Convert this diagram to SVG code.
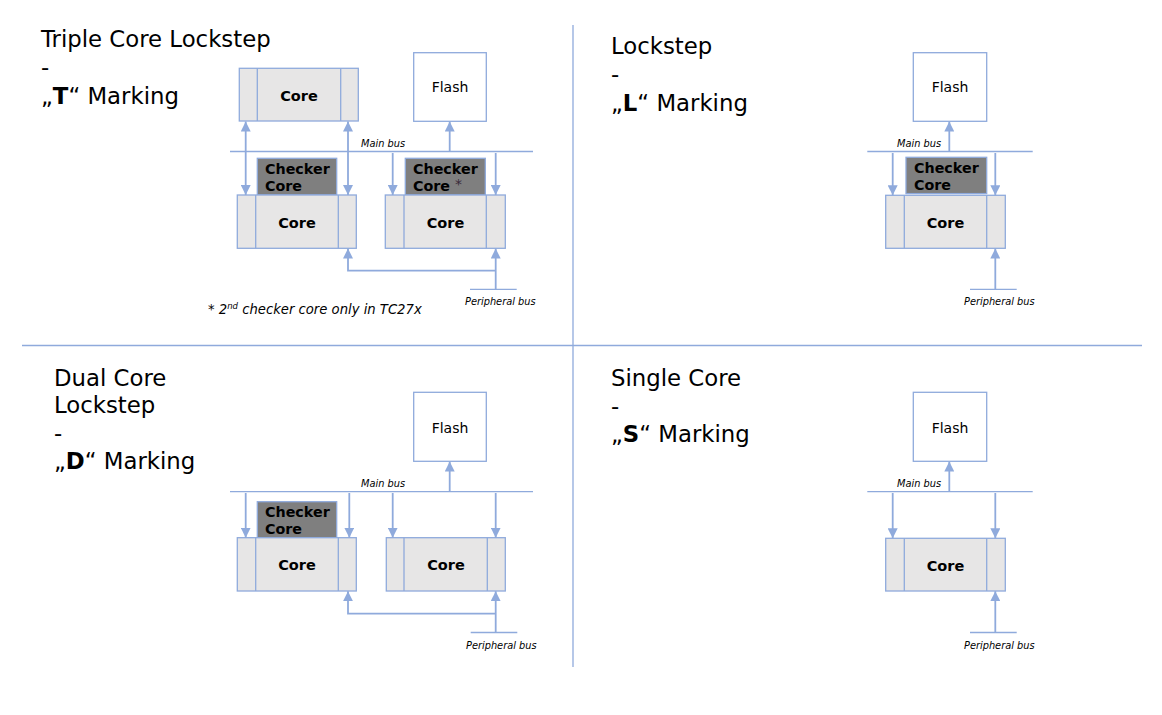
<svg xmlns="http://www.w3.org/2000/svg" width="1162" height="715" viewBox="0 0 1162 715">
<style>
text{font-family:"DejaVu Sans","Verdana",sans-serif;fill:#000}
.title{font-size:22.8px}
.core{fill:#E7E6E6;stroke:#8FAADC;stroke-width:1.3}
.chk{fill:#7F7F7F;stroke:#8FAADC;stroke-width:1.3}
.flash{fill:#fff;stroke:#8FAADC;stroke-width:1.3}
.div{stroke:#8FAADC;stroke-width:1.3;fill:none}
.bus{stroke:#8FAADC;stroke-width:1.3;fill:none}
.arr{stroke:#8FAADC;stroke-width:1.8;fill:none;marker-end:url(#ah)}
.arr2{stroke:#8FAADC;stroke-width:1.8;fill:none;marker-end:url(#ah);marker-start:url(#ahs)}
.sep{stroke:#8FAADC;stroke-width:1.3}
.ct{font-size:14.5px;font-weight:bold;text-anchor:middle}
.ck{font-size:14.3px;font-weight:bold}
.ft{font-size:14px;text-anchor:middle}
.lbl{font-size:9.8px;font-style:italic}
.note{font-size:13.2px;font-style:italic}
</style>
<defs>
<marker id="ah" markerUnits="userSpaceOnUse" markerWidth="11" markerHeight="10" refX="10" refY="5" orient="auto"><path d="M0,0 L10,5 L0,10 z" fill="#8FAADC"/></marker>
<marker id="ahs" markerUnits="userSpaceOnUse" markerWidth="11" markerHeight="10" refX="10" refY="5" orient="auto-start-reverse"><path d="M0,0 L10,5 L0,10 z" fill="#8FAADC"/></marker>
</defs>

<g id="separators">
<line class="sep" x1="573" y1="25" x2="573" y2="667"/>
<line class="sep" x1="22" y1="345.5" x2="1142" y2="345.5"/>
</g>

<g id="titles">
<text class="title" x="41" y="47">Triple Core Lockstep</text>
<text class="title" x="41" y="75">-</text>
<text class="title" x="41" y="104">„<tspan font-weight="bold">T</tspan>“ Marking</text>
<text class="title" x="611" y="54">Lockstep</text>
<text class="title" x="611" y="82">-</text>
<text class="title" x="611" y="111">„<tspan font-weight="bold">L</tspan>“ Marking</text>
<text class="title" x="54" y="386">Dual Core</text>
<text class="title" x="54" y="413">Lockstep</text>
<text class="title" x="54" y="441">-</text>
<text class="title" x="54" y="469">„<tspan font-weight="bold">D</tspan>“ Marking</text>
<text class="title" x="611" y="386">Single Core</text>
<text class="title" x="611" y="414">-</text>
<text class="title" x="611" y="442">„<tspan font-weight="bold">S</tspan>“ Marking</text>
</g>

<!-- Quadrant T -->
<g id="t-core-top">
<rect class="core" x="239.3" y="68.3" width="119" height="52.7"/>
<line class="div" x1="257.3" y1="68.3" x2="257.3" y2="121"/>
<line class="div" x1="340.7" y1="68.3" x2="340.7" y2="121"/>
<text class="ct" x="299" y="101">Core</text>
</g>
<g id="t-flash">
<rect class="flash" x="413.7" y="52.7" width="72.6" height="68.6"/>
<text class="ft" x="450" y="91.5">Flash</text>
</g>
<g id="t-checker1">
<rect class="chk" x="257.3" y="158.3" width="79.4" height="36.7"/>
<text class="ck" x="265" y="174">Checker</text>
<text class="ck" x="265" y="190.5">Core</text>
</g>
<g id="t-core-left">
<rect class="core" x="237.3" y="195" width="119" height="53.3"/>
<line class="div" x1="255.7" y1="195" x2="255.7" y2="248.3"/>
<line class="div" x1="338.3" y1="195" x2="338.3" y2="248.3"/>
<text class="ct" x="297" y="227.5">Core</text>
</g>
<g id="t-checker2">
<rect class="chk" x="405.3" y="158.3" width="80" height="36.7"/>
<text class="ck" x="413" y="174">Checker</text>
<text class="ck" x="413" y="190.5">Core <tspan font-weight="normal" fill="#3a2a3a" font-size="14" dy="-2">*</tspan></text>
</g>
<g id="t-core-right">
<rect class="core" x="385.3" y="195" width="120" height="53.3"/>
<line class="div" x1="404" y1="195" x2="404" y2="248.3"/>
<line class="div" x1="486.3" y1="195" x2="486.3" y2="248.3"/>
<text class="ct" x="445.5" y="227.5">Core</text>
</g>
<g id="t-labels">
<text class="lbl" x="361" y="147">Main bus</text>
<text class="lbl" x="465" y="305">Peripheral bus</text>
<text class="note" x="208" y="314">* 2<tspan font-size="8.5" dy="-5">nd</tspan><tspan dy="5"> checker core only in TC27x</tspan></text>
</g>

<!-- Quadrant L -->
<g id="l-flash">
<rect class="flash" x="913.3" y="52.7" width="73.4" height="68.6"/>
<text class="ft" x="950" y="91.5">Flash</text>
</g>
<g id="l-checker">
<rect class="chk" x="906" y="157.3" width="80.7" height="36.3"/>
<text class="ck" x="914" y="173">Checker</text>
<text class="ck" x="914" y="189.5">Core</text>
</g>
<g id="l-core">
<rect class="core" x="885.7" y="195.3" width="119.6" height="53"/>
<line class="div" x1="904.3" y1="195.3" x2="904.3" y2="248.3"/>
<line class="div" x1="986.7" y1="195.3" x2="986.7" y2="248.3"/>
<text class="ct" x="945.5" y="228">Core</text>
</g>
<g id="l-labels">
<text class="lbl" x="897" y="147">Main bus</text>
<text class="lbl" x="964" y="305">Peripheral bus</text>
</g>

<!-- Quadrant D -->
<g id="d-flash">
<rect class="flash" x="413.7" y="392.3" width="72.6" height="69"/>
<text class="ft" x="450" y="432.5">Flash</text>
</g>
<g id="d-checker">
<rect class="chk" x="257.3" y="501.7" width="79.4" height="36"/>
<text class="ck" x="265" y="516.7">Checker</text>
<text class="ck" x="265" y="533.5">Core</text>
</g>
<g id="d-core-left">
<rect class="core" x="237.3" y="537.7" width="119" height="53.3"/>
<line class="div" x1="255.7" y1="537.7" x2="255.7" y2="591"/>
<line class="div" x1="338.3" y1="537.7" x2="338.3" y2="591"/>
<text class="ct" x="297" y="570">Core</text>
</g>
<g id="d-core-right">
<rect class="core" x="386.3" y="537.7" width="119" height="53.3"/>
<line class="div" x1="404" y1="537.7" x2="404" y2="591"/>
<line class="div" x1="487.3" y1="537.7" x2="487.3" y2="591"/>
<text class="ct" x="446" y="570">Core</text>
</g>
<g id="d-labels">
<text class="lbl" x="361" y="486.5">Main bus</text>
<text class="lbl" x="466" y="649">Peripheral bus</text>
</g>

<!-- Quadrant S -->
<g id="s-flash">
<rect class="flash" x="913.3" y="392.3" width="73.4" height="69"/>
<text class="ft" x="950" y="432.5">Flash</text>
</g>
<g id="s-core">
<rect class="core" x="885.7" y="538.3" width="119.6" height="52.7"/>
<line class="div" x1="904.3" y1="538.3" x2="904.3" y2="591"/>
<line class="div" x1="986.7" y1="538.3" x2="986.7" y2="591"/>
<text class="ct" x="945.5" y="570.5">Core</text>
</g>
<g id="s-labels">
<text class="lbl" x="897" y="486.5">Main bus</text>
<text class="lbl" x="964" y="649">Peripheral bus</text>
</g>

<g id="connectors">
<!-- T -->
<line class="bus" x1="230" y1="151.5" x2="533" y2="151.5"/>
<line class="arr" x1="449.7" y1="151.5" x2="449.7" y2="121.5"/>
<line class="arr2" x1="245.7" y1="121.5" x2="245.7" y2="195"/>
<line class="arr2" x1="348" y1="121.5" x2="348" y2="195"/>
<line class="arr" x1="392.7" y1="153" x2="392.7" y2="195"/>
<line class="arr" x1="495.7" y1="153" x2="495.7" y2="195"/>
<line class="bus" x1="470" y1="289.3" x2="516.7" y2="289.3"/>
<line class="arr" x1="495.7" y1="289.3" x2="495.7" y2="248.5"/>
<polyline class="arr" points="495.7,270.7 348,270.7 348,248.5"/>
<!-- L -->
<line class="bus" x1="867.3" y1="151.5" x2="1032.7" y2="151.5"/>
<line class="arr" x1="949.3" y1="151.5" x2="949.3" y2="121.5"/>
<line class="arr" x1="892.7" y1="153" x2="892.7" y2="195.3"/>
<line class="arr" x1="995.3" y1="153" x2="995.3" y2="195.3"/>
<line class="bus" x1="970" y1="289.3" x2="1016.7" y2="289.3"/>
<line class="arr" x1="995.3" y1="289.3" x2="995.3" y2="248.5"/>
<!-- D -->
<line class="bus" x1="230" y1="491.7" x2="533" y2="491.7"/>
<line class="arr" x1="449.7" y1="491.7" x2="449.7" y2="461.5"/>
<line class="arr" x1="245.7" y1="493" x2="245.7" y2="537.7"/>
<line class="arr" x1="349.3" y1="493" x2="349.3" y2="537.7"/>
<line class="arr" x1="392.7" y1="493" x2="392.7" y2="537.7"/>
<line class="arr" x1="495.7" y1="493" x2="495.7" y2="537.7"/>
<line class="bus" x1="470.7" y1="632.5" x2="517.3" y2="632.5"/>
<line class="arr" x1="495.7" y1="632.5" x2="495.7" y2="591.2"/>
<polyline class="arr" points="495.7,613.7 348,613.7 348,591.2"/>
<!-- S -->
<line class="bus" x1="867.3" y1="491.7" x2="1032.7" y2="491.7"/>
<line class="arr" x1="949.3" y1="491.7" x2="949.3" y2="461.5"/>
<line class="arr" x1="892.7" y1="493" x2="892.7" y2="538.3"/>
<line class="arr" x1="995.3" y1="493" x2="995.3" y2="538.3"/>
<line class="bus" x1="970" y1="632.5" x2="1016.7" y2="632.5"/>
<line class="arr" x1="995.3" y1="632.5" x2="995.3" y2="591.2"/>
</g>
</svg>
